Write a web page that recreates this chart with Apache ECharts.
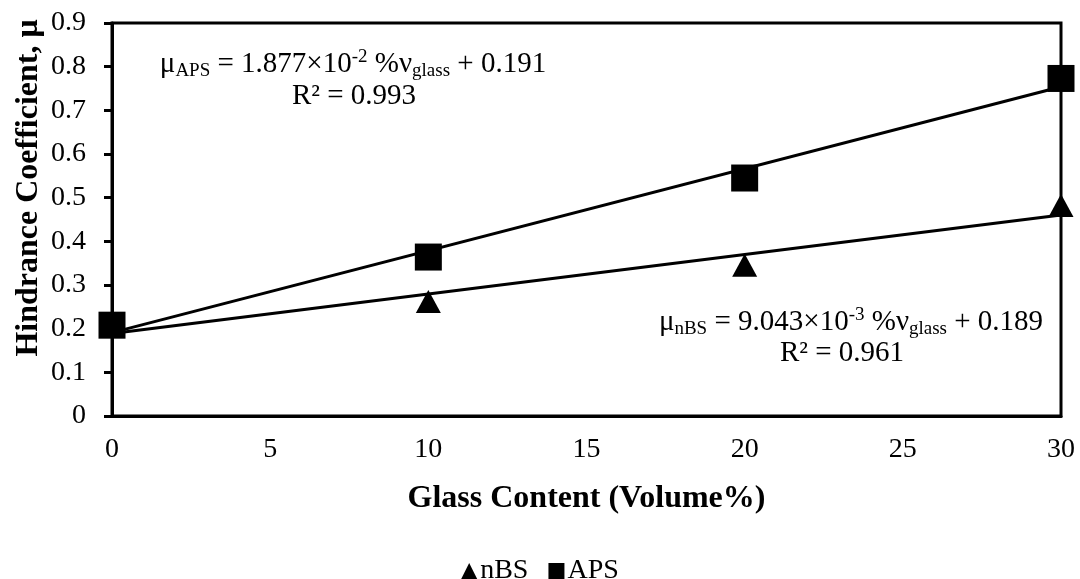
<!DOCTYPE html>
<html>
<head>
<meta charset="utf-8">
<script src="https://cdn.jsdelivr.net/npm/echarts@6/dist/echarts.min.js"></script>
<style>
  html, body { margin: 0; padding: 0; background: #fff; }
  #chart { width: 1080px; height: 579px; }
</style>
</head>
<body>
<div id="chart"></div>
<script>
// Glass content (vol%) and measured hindrance coefficients
const glassContent = [0, 10, 20, 30];
const nBS = [0.205, 0.262, 0.345, 0.482];
const APS = [0.208, 0.364, 0.545, 0.773];

// Linear fit coefficients [slope, intercept] from the equations shown
const fitNBS = [9.043e-3, 0.189];
const fitAPS = [1.877e-2, 0.191];
const fitRange = [0, 30];

const xTicks = { min: 0, max: 30, interval: 5 };
const yTicks = { min: 0, max: 0.9, interval: 0.1 };

const FONT = '"Liberation Serif", "Times New Roman", serif';

function pairs(xs, ys) { return xs.map((x, i) => [x, ys[i]]); }
function fitLine(c) { return fitRange.map(x => [x, c[0] * x + c[1]]); }

const chart = echarts.init(document.getElementById('chart'), null, { renderer: 'canvas' });

const rich = {
  n: { fontFamily: FONT, fontSize: 29, color: '#000' },
  sub: { fontFamily: FONT, fontSize: 19, color: '#000', padding: [15, 0, 0, 0] },
  sup: { fontFamily: FONT, fontSize: 19, color: '#000', padding: [0, 0, 13, 0] }
};

chart.setOption({
  animation: false,
  backgroundColor: '#fff',
  grid: { left: 112, right: 19, top: 23, bottom: 163, show: true, borderColor: '#000', borderWidth: 3 },
  legend: {
    data: [
      { name: 'nBS', icon: 'triangle' },
      { name: 'APS', icon: 'rect' }
    ],
    top: 552,
    left: 'center',
    itemWidth: 16,
    itemHeight: 16,
    itemGap: 20,
    textStyle: { fontFamily: FONT, fontSize: 28, color: '#000', padding: [0, 0, 0, -2] }
  },
  xAxis: {
    type: 'value',
    min: xTicks.min, max: xTicks.max, interval: xTicks.interval,
    name: 'Glass Content (Volume%)',
    nameLocation: 'middle',
    nameGap: 67,
    nameTextStyle: { fontFamily: FONT, fontSize: 32, fontWeight: 'bold', color: '#000' },
    axisLine: { lineStyle: { color: '#000', width: 3 } },
    axisTick: { show: false },
    splitLine: { show: false },
    axisLabel: { fontFamily: FONT, fontSize: 28, color: '#000', margin: 20 }
  },
  yAxis: {
    type: 'value',
    min: yTicks.min, max: yTicks.max, interval: yTicks.interval,
    axisLine: { show: true, lineStyle: { color: '#000', width: 3 } },
    axisTick: { show: true, inside: false, length: 8, lineStyle: { color: '#000', width: 3 } },
    splitLine: { show: false },
    axisLabel: { fontFamily: FONT, fontSize: 28, color: '#000', margin: 26,
      formatter: v => (v === 0 ? '0' : v.toFixed(1)) }
  },
  series: [
    {
      name: 'nBS fit', type: 'line', data: fitLine(fitNBS), showSymbol: false, silent: true,
      lineStyle: { color: '#000', width: 3 }, z: 2
    },
    {
      name: 'APS fit', type: 'line', data: fitLine(fitAPS), showSymbol: false, silent: true,
      lineStyle: { color: '#000', width: 3 }, z: 2
    },
    {
      name: 'nBS', type: 'scatter', data: pairs(glassContent, nBS),
      symbol: 'triangle', symbolSize: [25, 23], itemStyle: { color: '#000', opacity: 1 }, z: 3
    },
    {
      name: 'APS', type: 'scatter', data: pairs(glassContent, APS),
      symbol: 'rect', symbolSize: 27, itemStyle: { color: '#000', opacity: 1 }, z: 4
    }
  ],
  graphic: [
    {
      // y-axis title, centred a little above the plot middle
      type: 'text', x: 29, y: 188, rotation: Math.PI / 2, z: 10,
      style: {
        text: 'Hindrance Coefficient, μ', fontFamily: FONT, fontSize: 32, fontWeight: 'bold',
        fill: '#000', align: 'center', verticalAlign: 'middle'
      }
    },
    {
      type: 'text', x: 353, y: 64, z: 10,
      style: {
        text: '{n|μ}{sub|APS}{n| = 1.877×10}{sup|-2}{n| %ν}{sub|glass}{n| + 0.191}',
        rich: rich, align: 'center', verticalAlign: 'middle'
      }
    },
    {
      type: 'text', x: 354, y: 96, z: 10,
      style: { text: 'R² = 0.993', fontFamily: FONT, fontSize: 29, fill: '#000', align: 'center', verticalAlign: 'middle' }
    },
    {
      type: 'text', x: 851, y: 322, z: 10,
      style: {
        text: '{n|μ}{sub|nBS}{n| = 9.043×10}{sup|-3}{n| %ν}{sub|glass}{n| + 0.189}',
        rich: rich, align: 'center', verticalAlign: 'middle'
      }
    },
    {
      type: 'text', x: 842, y: 353, z: 10,
      style: { text: 'R² = 0.961', fontFamily: FONT, fontSize: 29, fill: '#000', align: 'center', verticalAlign: 'middle' }
    }
  ]
});
</script>
</body>
</html>
